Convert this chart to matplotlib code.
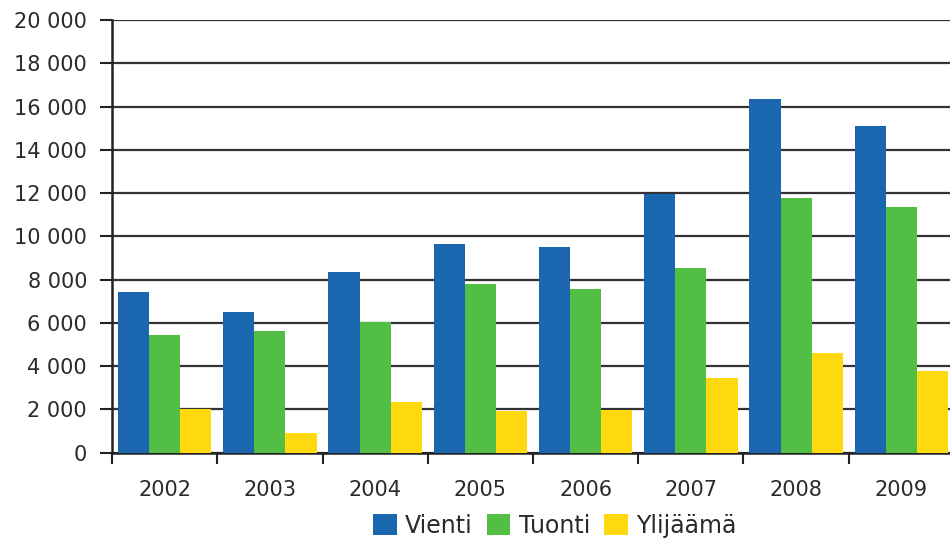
import numpy as np
import matplotlib
matplotlib.use('Agg')
import matplotlib.pyplot as plt
from matplotlib.ticker import FuncFormatter, MultipleLocator

# Datos
vuodet = ['2002', '2003', '2004', '2005', '2006', '2007', '2008', '2009']
vienti = [7440, 6510, 8360, 9670, 9520, 11980, 16370, 15100]
tuonti = [5420, 5610, 6020, 7780, 7590, 8520, 11780, 11360]
ylijaama = [2000, 920, 2340, 1930, 1990, 3440, 4590, 3760]

sarjat = ['Vienti', 'Tuonti', 'Ylijäämä']
varit = ['#1a67b0', '#52be44', '#ffd910']

fig = plt.figure(figsize=(9.5, 5.41), dpi=100)
ax = fig.add_axes([0.1179, 0.1632, 0.8863, 0.7998])

x = np.arange(len(vuodet))
w = 0.296
for i, (nimi, arvot, vari) in enumerate(zip(sarjat, [vienti, tuonti, ylijaama], varit)):
    ax.bar(x + (i - 1) * w, arvot, width=w, color=vari, label=nimi, zorder=3)

ax.set_xlim(-0.5, len(vuodet) - 0.5)
ax.set_ylim(0, 20000)
ax.yaxis.set_major_locator(MultipleLocator(2000))
ax.yaxis.set_major_formatter(FuncFormatter(lambda v, p: f'{int(v):,}'.replace(',', ' ')))

ax.set_xticks(x)
ax.set_xticklabels(vuodet)
ax.set_xticks(np.arange(-0.5, len(vuodet) + 0.5, 1), minor=True)
ax.tick_params(axis='x', which='major', length=0, pad=20, labelsize=15, colors='#2a2a2a')
ax.tick_params(axis='x', which='minor', length=8, width=1.5, color='#222222')
ax.tick_params(axis='y', length=9, width=1.5, color='#222222', labelsize=15,
               labelcolor='#2a2a2a', pad=9)

ax.grid(axis='y', color='#333333', linewidth=1.6, zorder=0)
ax.set_axisbelow(True)
for s in ['top', 'right']:
    ax.spines[s].set_visible(False)
for s in ['left', 'bottom']:
    ax.spines[s].set_linewidth(1.8)
    ax.spines[s].set_color('#222222')

fig.legend(loc='center', bbox_to_anchor=(0.584, 0.028), ncol=3, frameon=False,
           fontsize=17, handlelength=1.0, handleheight=1.0, handletextpad=0.35,
           columnspacing=0.6, borderaxespad=0, labelcolor='#2a2a2a')

fig.savefig('out.png', dpi=100)
